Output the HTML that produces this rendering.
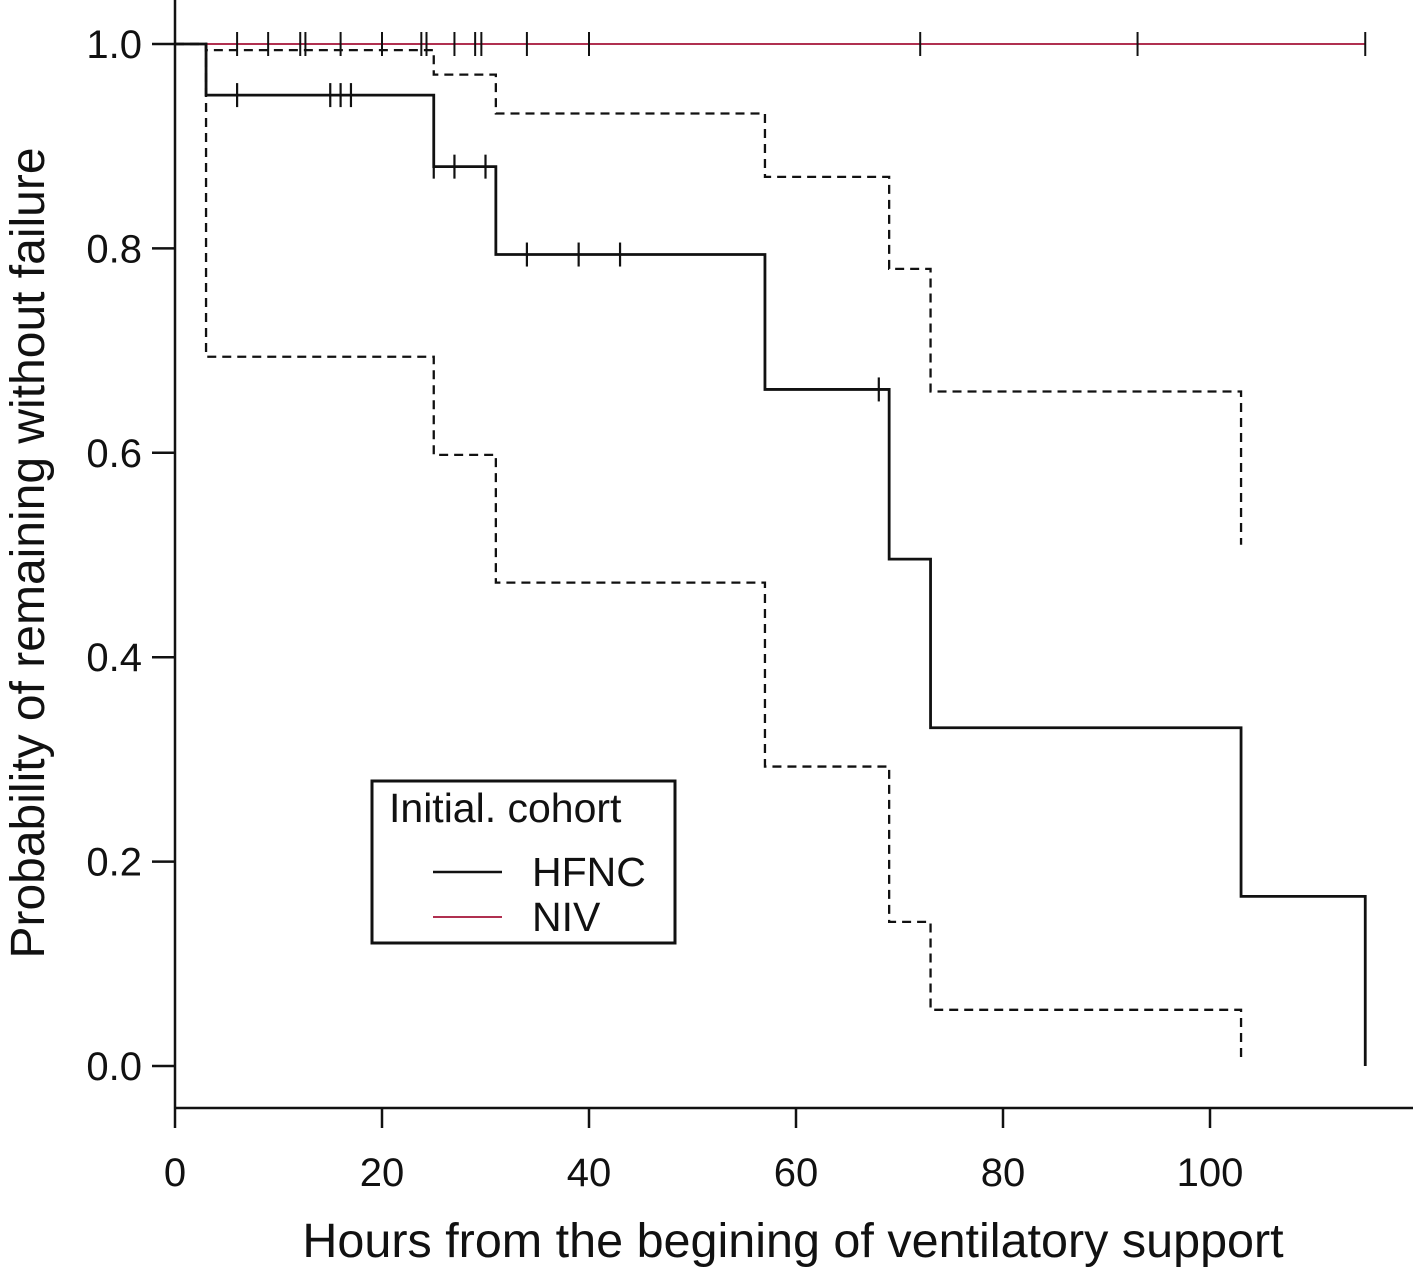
<!DOCTYPE html>
<html><head><meta charset="utf-8"><style>
html,body{margin:0;padding:0;background:#fff;}
svg{display:block;font-family:"Liberation Sans",Arial,sans-serif;}
</style></head><body>
<svg id="chart" width="1417" height="1268" viewBox="0 0 1417 1268">
<g id="axes"></g>
<g id="plot"></g>
<text x="793" y="1257" font-size="48.5" text-anchor="middle" fill="#111">Hours from the begining of ventilatory support</text>
<text transform="translate(44,553) rotate(-90)" font-size="48" text-anchor="middle" fill="#111">Probability of remaining without failure</text>
<g>
<rect x="372" y="781" width="303" height="162" fill="#fff" stroke="#111" stroke-width="3"/>
<text x="389" y="822" font-size="41" fill="#111">Initial. cohort</text>
<line x1="433" y1="872" x2="502" y2="872" stroke="#111" stroke-width="2.5"/>
<text x="532" y="886" font-size="41" fill="#111">HFNC</text>
<line x1="433" y1="917" x2="502" y2="917" stroke="#b03050" stroke-width="2"/>
<text x="532" y="931" font-size="41" fill="#111">NIV</text>
</g>
</svg>
<script>
const xTicks = [0, 20, 40, 60, 80, 100];
const yTicks = [0.0, 0.2, 0.4, 0.6, 0.8, 1.0];
const hfncTimes = [0, 3, 25, 31, 57, 69, 73, 103, 115];
const hfncSurv = [1.0, 0.95, 0.88, 0.794, 0.662, 0.496, 0.331, 0.166, 0.0];
const hfncUpper = [1.0, 0.994, 0.97, 0.932, 0.87, 0.78, 0.66, 0.51];
const hfncLower = [1.0, 0.694, 0.598, 0.473, 0.293, 0.141, 0.055, 0.008];
const hfncCensor = [6, 15, 16, 17, 25, 27, 30, 34, 39, 43, 68];
const nivEnd = 115;
const nivCensor = [6, 9, 12.1, 12.6, 16, 20, 23.8, 24.3, 27, 29, 29.6, 34, 40, 72, 93, 115];

const NS = "http://www.w3.org/2000/svg";
const sx = v => 175 + v * 10.35;
const sy = v => 1066 - v * 1022;
function mk(tag, attrs, parent) {
  const e = document.createElementNS(NS, tag);
  for (const k in attrs) e.setAttribute(k, attrs[k]);
  parent.appendChild(e);
  return e;
}
const axes = document.getElementById('axes');
const plot = document.getElementById('plot');
let e;
e = mk('line', {x1:175, y1:0, x2:175, y2:1108, stroke:'#111', 'stroke-width':2.5}, axes);


e = mk('line', {x1:175, y1:1108, x2:1413, y2:1108, stroke:'#111', 'stroke-width':2.5}, axes);


xTicks.forEach(t => {
  let l = mk('line', {x1:sx(t), y1:1108, x2:sx(t), y2:1128, stroke:'#111', 'stroke-width':2.5}, axes);
  
  
  let tx = mk('text', {x:sx(t), y:1186, 'font-size':40, 'text-anchor':'middle', fill:'#111'}, axes);
  tx.textContent = String(t);
  
  
});
yTicks.forEach(t => {
  let l = mk('line', {x1:152, y1:sy(t), x2:175, y2:sy(t), stroke:'#111', 'stroke-width':2.5}, axes);
  
  
  let tx = mk('text', {x:142, y:sy(t)+14, 'font-size':40, 'text-anchor':'end', fill:'#111'}, axes);
  tx.textContent = t.toFixed(1);
  
  
});
function stepPath(times, vals) {
  let d = 'M' + sx(times[0]) + ',' + sy(vals[0]);
  for (let i = 1; i < vals.length; i++) {
    d += ' H' + sx(times[i]) + ' V' + sy(vals[i]);
  }
  return d;
}
e = mk('line', {x1:sx(0), y1:sy(1), x2:sx(nivEnd), y2:sy(1), stroke:'#b03050', 'stroke-width':2}, plot);


nivCensor.forEach(t => {
  let c = mk('line', {x1:sx(t), y1:sy(1)-12, x2:sx(t), y2:sy(1)+12, stroke:'#111', 'stroke-width':2}, plot);
  
  
});
const ciT = hfncTimes.slice(0, hfncUpper.length);
e = mk('path', {d: stepPath(ciT, hfncUpper), fill:'none', stroke:'#111', 'stroke-width':2.3, 'stroke-dasharray':'9,6'}, plot);


e = mk('path', {d: stepPath(ciT, hfncLower), fill:'none', stroke:'#111', 'stroke-width':2.3, 'stroke-dasharray':'9,6'}, plot);


e = mk('path', {d: stepPath(hfncTimes, hfncSurv), fill:'none', stroke:'#111', 'stroke-width':2.8}, plot);


function survAt(t) {
  let v = hfncSurv[0];
  for (let i = 0; i < hfncTimes.length; i++) if (hfncTimes[i] <= t) v = hfncSurv[i];
  return v;
}
hfncCensor.forEach(t => {
  const y = sy(survAt(t));
  let c = mk('line', {x1:sx(t), y1:y-12, x2:sx(t), y2:y+12, stroke:'#111', 'stroke-width':2.2}, plot);
  
  
});
</script>
</body></html>
